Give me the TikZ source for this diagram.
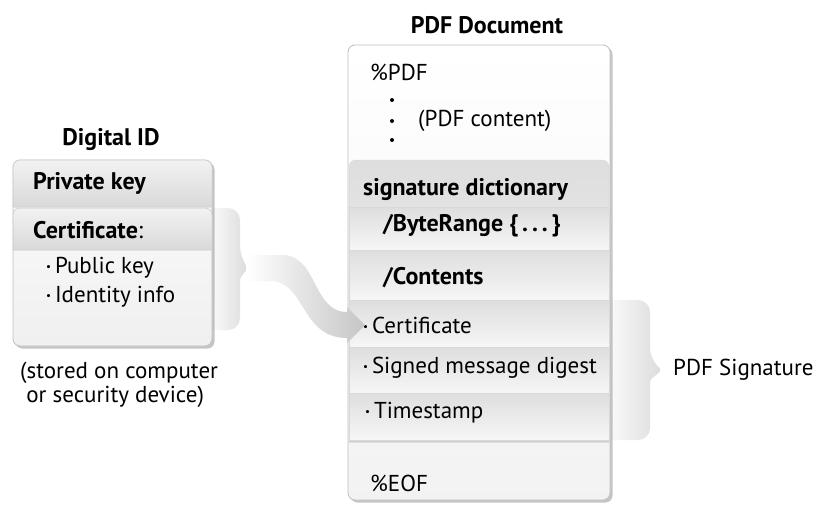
\documentclass[tikz,border=0pt]{standalone}
\usepackage{fontspec}
\setmainfont{PT Sans}
\usetikzlibrary{shadows,positioning,calc}
\newcommand{\bul}{\raisebox{0.25ex}{\fontsize{11}{11}\selectfont\textbullet}\,}
\tikzset{
  panel/.style={draw=gray!50, line width=0.8pt, rounded corners=7pt,
    drop shadow={shadow xshift=2.5pt, shadow yshift=-2.5pt, opacity=0.45}},
  band/.style={top color=gray!10, bottom color=gray!30, draw=gray!45, line width=0.5pt},
  sigrow/.style={top color=gray!26, bottom color=gray!7, draw=gray!30, line width=0.5pt},
  brace/.style={left color=white, right color=gray!28},
  txt/.style={font=\fontsize{23}{24}\selectfont, anchor=west, inner sep=0pt},
  btxt/.style={txt, font=\fontsize{24}{26}\selectfont\bfseries},
  title/.style={font=\fontsize{24}{26}\selectfont\bfseries, inner sep=0pt},
}

\begin{document}
\begin{tikzpicture}[x=1pt, y=-1pt]
    \useasboundingbox[fill=white] (0,0) rectangle (817,504);
    % braces
    \shade[brace] (205,208) [rounded corners=12pt] -- (240,208) -- (240,258)
        [rounded corners=3pt] -- (248,268) -- (240,278)
        [rounded corners=12pt] -- (240,330) [sharp corners] -- (205,330) -- cycle;
    \shade[brace] (600,300) [rounded corners=12pt] -- (650,300) -- (650,360)
        [rounded corners=3pt] -- (662,370) -- (650,380)
        [rounded corners=12pt] -- (650,440) [sharp corners] -- (600,440) -- cycle;
    \coordinate (ltip) at (248,268);
    \coordinate (rtip) at (662,370);
    % Digital ID
    \node[title] (didtitle) at (111,140) {Digital ID};
    \path[panel, top color=gray!3, bottom color=gray!12] (13,160) rectangle (212,346);
    \path[band] (13,207) [rounded corners=7pt] -- (13,160) -- (212,160) [sharp corners] -- (212,207) -- cycle;
    \path[band] (13,250) [rounded corners=7pt] -- (13,208) -- (212,208) [sharp corners] -- (212,250) -- cycle;
    \node[btxt] (privkey) at (33,183) {Private key};
    \node[btxt] (cert) at (33,230) {Certificate\textmd{:}};
    \node[txt] (pubkey) at (46,268) {\bul Public key};
    \node[txt] (idinfo) at (46,297) {\bul Identity info};
    \node[txt, align=left] (stored) at (20,385) {(stored on computer\\\ or security device)};
    % PDF document
    \node[title] (pdftitle) at (487,25) {PDF Document};
    \path[panel, top color=white, bottom color=gray!10] (348,45) rectangle (610,500);
    \path[sigrow, drop shadow={shadow xshift=0pt, shadow yshift=-2.5pt, opacity=0.3}]
        (349,440) [rounded corners=7pt] -- (349,160) -- (609,160) [sharp corners] -- (609,440) -- cycle;
    \foreach \ya/\yb in {207/250, 250/300, 300/347, 347/393, 393/440}
        \path[sigrow] (349,\ya) rectangle (609,\yb);
    \node[txt] (pdfhead) at (370,72) {\%PDF};
    \foreach \y in {100,121,140}
        \fill (392,\y) circle (2pt);
    \node[txt] (pdfcontent) at (418,121) {(PDF content)};
    \node[btxt] (sigdict) at (363,190) {signature dictionary};
    \node[btxt] (byterange) at (383,226) {/ByteRange \{\,.\,.\,.\,\}};
    \node[btxt] (contents) at (383,278) {/Contents};
    \node[txt] (sigcert) at (363,325) {\bul Certificate};
    \node[txt] (digest) at (363,368) {\bul Signed message digest};
    \node[txt] (tstamp) at (365,413) {\bul Timestamp};
    \node[txt] (eof) at (370,483) {\%EOF};
    \node[txt] (pdfsig) at (673,370) {PDF Signature};
    % arrow from certificate to signature
    \shade[left color=white, right color=gray!45]
        (246,255) -- (282,255) .. controls (318,255) and (312,312) .. (347,312)
        -- (347,307) -- (365,325) -- (347,343) -- (347,338)
        .. controls (300,338) and (306,281) .. (270,281) -- (246,281) -- cycle;
\end{tikzpicture}
\end{document}
